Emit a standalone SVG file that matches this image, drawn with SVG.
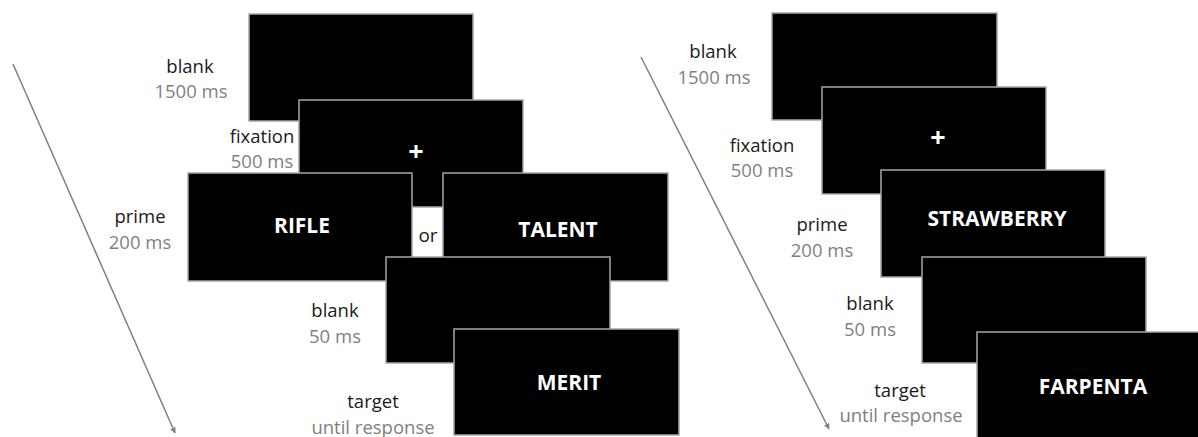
<svg xmlns="http://www.w3.org/2000/svg" width="1198" height="437" viewBox="0 0 1198 437">
  <defs>
    <style>
      .scr { fill: #000; stroke: #a6a6a6; stroke-width: 1.5; }
      .lbl { font-family: "Open Sans", "Liberation Sans", sans-serif; font-size: 18.5px; fill: #1a1a1a; text-anchor: middle; }
      .dur { font-family: "Open Sans", "Liberation Sans", sans-serif; font-size: 18.5px; fill: #7f7f7f; text-anchor: middle; }
      .word { font-family: "Open Sans", "Liberation Sans", sans-serif; font-size: 21px; font-weight: bold; fill: #fff; text-anchor: middle; }
      .plus { font-family: "Open Sans", "Liberation Sans", sans-serif; font-size: 27px; font-weight: bold; fill: #fff; text-anchor: middle; }
      .or { font-family: "Open Sans", "Liberation Sans", sans-serif; font-size: 19px; fill: #1a1a1a; text-anchor: middle; }
      .arrow { stroke: #808080; stroke-width: 1.5; fill: none; marker-end: url(#ah); }
    </style>
    <marker id="ah" viewBox="0 0 10 10" refX="9" refY="5" markerWidth="6" markerHeight="6" orient="auto" markerUnits="userSpaceOnUse">
      <path d="M0,0 L10,5 L0,10 z" fill="#808080"/>
    </marker>
  </defs>
  <rect width="1198" height="437" fill="#fff"/>

  <g id="connectors">
    <line class="arrow" x1="13" y1="64" x2="175" y2="433"/>
    <line class="arrow" x1="641" y1="57" x2="829" y2="429"/>
  </g>

  <!-- Left panel -->
  <g id="L-blank1500">
    <rect class="scr" x="249" y="14" width="224" height="107"/>
    <text class="lbl" x="190" y="73">blank</text>
    <text class="dur" x="191" y="98">1500 ms</text>
  </g>
  <g id="L-fixation">
    <rect class="scr" x="299" y="100" width="224" height="107"/>
    <text class="plus" x="416" y="161">+</text>
    <text class="lbl" x="262" y="143">fixation</text>
    <text class="dur" x="262" y="168">500 ms</text>
  </g>
  <g id="L-prime-rifle">
    <rect class="scr" x="188" y="173" width="224" height="108"/>
    <text class="word" x="302" y="233">RIFLE</text>
    <text class="lbl" x="140" y="223">prime</text>
    <text class="dur" x="140" y="249">200 ms</text>
  </g>
  <g id="L-or">
    <text class="or" x="428" y="242">or</text>
  </g>
  <g id="L-prime-talent">
    <rect class="scr" x="443" y="173" width="225" height="108"/>
    <text class="word" x="558" y="237">TALENT</text>
  </g>
  <g id="L-blank50">
    <rect class="scr" x="386" y="257" width="224" height="106"/>
    <text class="lbl" x="335" y="317">blank</text>
    <text class="dur" x="335" y="343">50 ms</text>
  </g>
  <g id="L-target">
    <rect class="scr" x="454" y="329" width="225" height="106"/>
    <text class="word" x="569" y="390">MERIT</text>
    <text class="lbl" x="373" y="408">target</text>
    <text class="dur" x="373" y="434">until response</text>
  </g>

  <!-- Right panel -->
  <g id="R-blank1500">
    <rect class="scr" x="772" y="13" width="225" height="107"/>
    <text class="lbl" x="713" y="58">blank</text>
    <text class="dur" x="714" y="84">1500 ms</text>
  </g>
  <g id="R-fixation">
    <rect class="scr" x="822" y="87" width="224" height="107"/>
    <text class="plus" x="938" y="147">+</text>
    <text class="lbl" x="762" y="152">fixation</text>
    <text class="dur" x="762" y="177">500 ms</text>
  </g>
  <g id="R-prime">
    <rect class="scr" x="881" y="170" width="224" height="107"/>
    <text class="word" x="997" y="226">STRAWBERRY</text>
    <text class="lbl" x="822" y="231">prime</text>
    <text class="dur" x="822" y="257">200 ms</text>
  </g>
  <g id="R-blank50">
    <rect class="scr" x="922" y="257" width="224" height="106"/>
    <text class="lbl" x="870" y="310">blank</text>
    <text class="dur" x="870" y="336">50 ms</text>
  </g>
  <g id="R-target">
    <rect class="scr" x="977" y="332" width="225" height="108"/>
    <text class="word" x="1093" y="394">FARPENTA</text>
    <text class="lbl" x="900" y="397">target</text>
    <text class="dur" x="901" y="422">until response</text>
  </g>
</svg>
